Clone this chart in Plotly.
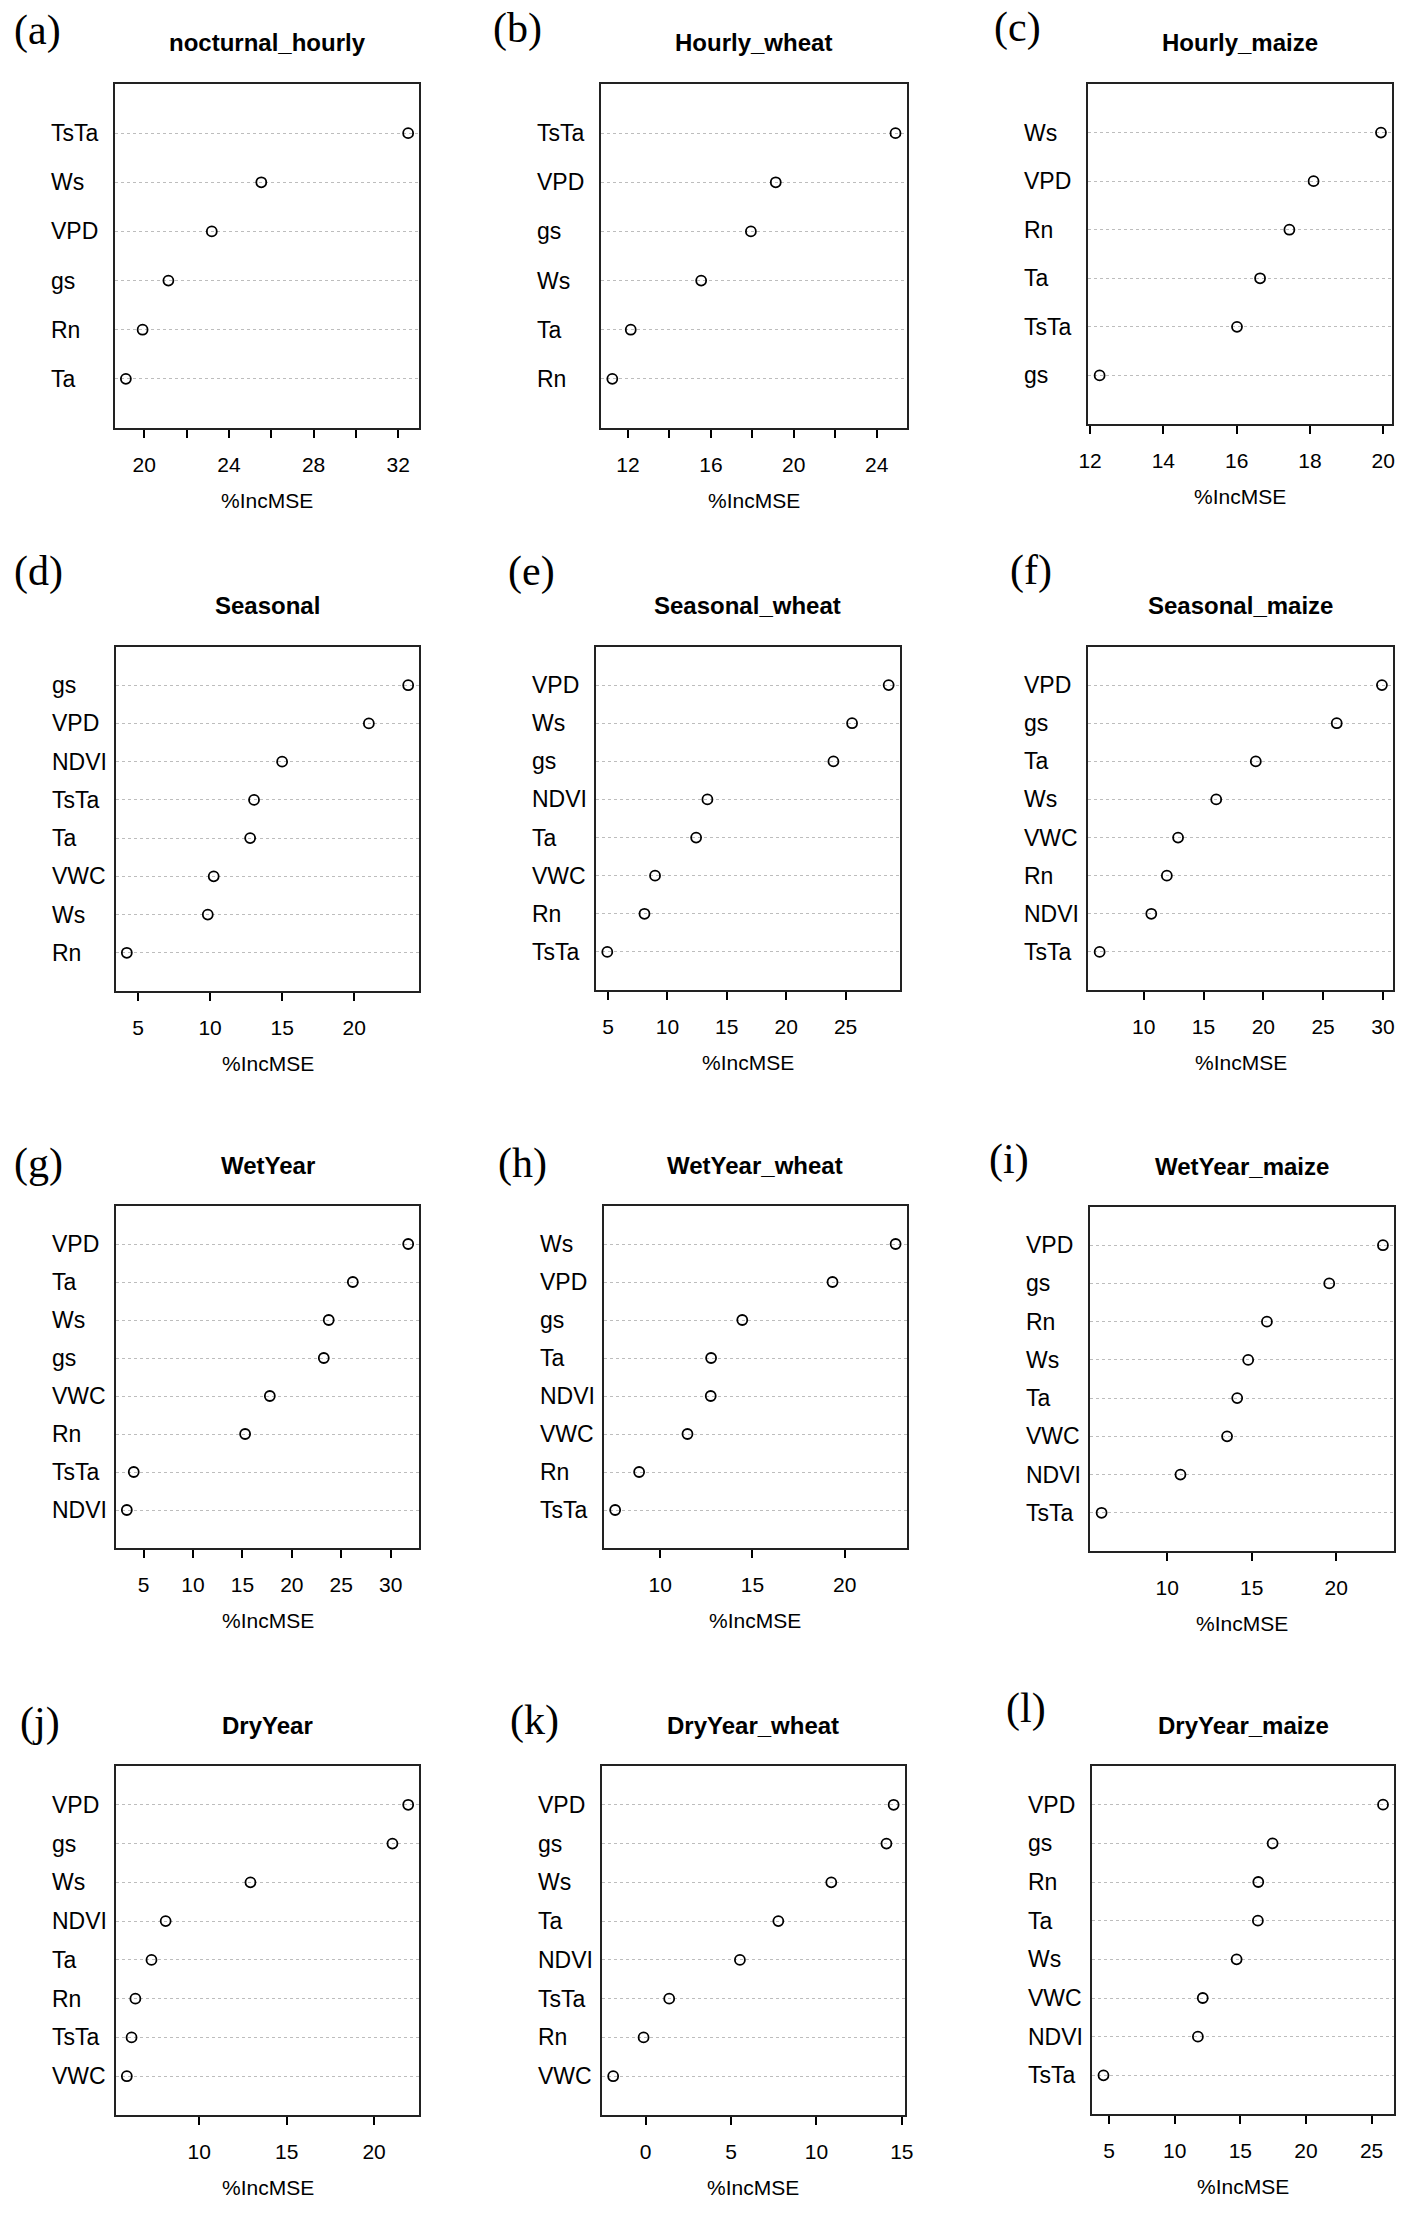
import plotly.graph_objects as go

# %IncMSE importance per panel, listed top to bottom as drawn
a_vars = ["TsTa", "Ws", "VPD", "gs", "Rn", "Ta"]
a_vals = [32.47, 25.53, 23.19, 21.14, 19.92, 19.13]
a_ticks = [20, 22, 24, 26, 28, 30, 32]
a_labels = ["20", "", "24", "", "28", "", "32"]

b_vars = ["TsTa", "VPD", "gs", "Ws", "Ta", "Rn"]
b_vals = [24.91, 19.13, 17.93, 15.53, 12.13, 11.24]
b_ticks = [12, 14, 16, 18, 20, 22, 24]
b_labels = ["12", "", "16", "", "20", "", "24"]

c_vars = ["Ws", "VPD", "Rn", "Ta", "TsTa", "gs"]
c_vals = [19.94, 18.10, 17.44, 16.64, 16.01, 12.26]
c_ticks = [12, 14, 16, 18, 20]
c_labels = ["12", "14", "16", "18", "20"]

d_vars = ["gs", "VPD", "NDVI", "TsTa", "Ta", "VWC", "Ws", "Rn"]
d_vals = [23.75, 21.02, 15.00, 13.05, 12.78, 10.25, 9.84, 4.22]
d_ticks = [5, 10, 15, 20]
d_labels = ["5", "10", "15", "20"]

e_vars = ["VPD", "Ws", "gs", "NDVI", "Ta", "VWC", "Rn", "TsTa"]
e_vals = [28.63, 25.55, 23.98, 13.37, 12.42, 8.96, 8.07, 4.94]
e_ticks = [5, 10, 15, 20, 25]
e_labels = ["5", "10", "15", "20", "25"]

f_vars = ["VPD", "gs", "Ta", "Ws", "VWC", "Rn", "NDVI", "TsTa"]
f_vals = [29.92, 26.14, 19.37, 16.06, 12.87, 11.93, 10.63, 6.31]
f_ticks = [10, 15, 20, 25, 30]
f_labels = ["10", "15", "20", "25", "30"]

g_vars = ["VPD", "Ta", "Ws", "gs", "VWC", "Rn", "TsTa", "NDVI"]
g_vals = [31.77, 26.17, 23.73, 23.23, 17.77, 15.27, 4.00, 3.30]
g_ticks = [5, 10, 15, 20, 25, 30]
g_labels = ["5", "10", "15", "20", "25", "30"]

h_vars = ["Ws", "VPD", "gs", "Ta", "NDVI", "VWC", "Rn", "TsTa"]
h_vals = [22.76, 19.34, 14.45, 12.76, 12.74, 11.48, 8.86, 7.56]
h_ticks = [10, 15, 20]
h_labels = ["10", "15", "20"]

i_vars = ["VPD", "gs", "Rn", "Ws", "Ta", "VWC", "NDVI", "TsTa"]
i_vals = [22.77, 19.59, 15.90, 14.79, 14.14, 13.54, 10.78, 6.11]
i_ticks = [10, 15, 20]
i_labels = ["10", "15", "20"]

j_vars = ["VPD", "gs", "Ws", "NDVI", "Ta", "Rn", "TsTa", "VWC"]
j_vals = [21.95, 21.05, 12.93, 8.08, 7.27, 6.35, 6.13, 5.86]
j_ticks = [10, 15, 20]
j_labels = ["10", "15", "20"]

k_vars = ["VPD", "gs", "Ws", "Ta", "NDVI", "TsTa", "Rn", "VWC"]
k_vals = [14.52, 14.10, 10.87, 7.77, 5.52, 1.38, -0.12, -1.90]
k_ticks = [0, 5, 10, 15]
k_labels = ["0", "5", "10", "15"]

l_vars = ["VPD", "gs", "Rn", "Ta", "Ws", "VWC", "NDVI", "TsTa"]
l_vals = [25.87, 17.46, 16.37, 16.34, 14.72, 12.14, 11.77, 4.58]
l_ticks = [5, 10, 15, 20, 25]
l_labels = ["5", "10", "15", "20", "25"]

titles = ["nocturnal_hourly", "Hourly_wheat", "Hourly_maize",
          "Seasonal", "Seasonal_wheat", "Seasonal_maize",
          "WetYear", "WetYear_wheat", "WetYear_maize",
          "DryYear", "DryYear_wheat", "DryYear_maize"]
tags = ["(a)", "(b)", "(c)", "(d)", "(e)", "(f)",
        "(g)", "(h)", "(i)", "(j)", "(k)", "(l)"]

panels = [
    (a_vars, a_vals, a_ticks, a_labels), (b_vars, b_vals, b_ticks, b_labels),
    (c_vars, c_vals, c_ticks, c_labels), (d_vars, d_vals, d_ticks, d_labels),
    (e_vars, e_vals, e_ticks, e_labels), (f_vars, f_vals, f_ticks, f_labels),
    (g_vars, g_vals, g_ticks, g_labels), (h_vars, h_vals, h_ticks, h_labels),
    (i_vars, i_vals, i_ticks, i_labels), (j_vars, j_vals, j_ticks, j_labels),
    (k_vars, k_vals, k_ticks, k_labels), (l_vars, l_vals, l_ticks, l_labels),
]

# plot boxes in pixels: left, top, right, bottom
W, H = 1418, 2230
boxes = [(106, 84, 415, 428), (599, 84, 909, 428), (1093, 84, 1401, 424),
         (107, 647, 415, 991), (594, 647, 902, 990), (1093, 647, 1402, 990),
         (107, 1206, 415, 1548), (602, 1206, 909, 1548), (1095, 1207, 1403, 1551),
         (107, 1766, 415, 2115), (600, 1766, 907, 2115), (1097, 1766, 1403, 2114)]
# panel tag positions (left x, centre y) in pixels
tag_pos = [(2, 30), (488, 29), (995, 28), (2, 572), (503, 572), (1012, 570),
           (2, 1163), (493, 1163), (990, 1160), (8, 1722), (505, 1720), (1007, 1708)]

SANS = "Liberation Sans, Arial, sans-serif"
fig = go.Figure()
annotations = []
layout = {}

for n, (vars_, vals, ticks, labels) in enumerate(panels):
    k = "" if n == 0 else str(n + 1)
    nv = len(vars_)
    ys = [nv - i for i in range(nv)]
    fig.add_trace(go.Scatter(
        x=vals, y=ys, mode="markers", xaxis="x" + k, yaxis="y" + k,
        marker=dict(symbol="circle-open", size=10, color="black",
                    line=dict(width=1.8, color="black")),
        showlegend=False, hoverinfo="x"))

    lo, hi = min(vals), max(vals)
    pad = 0.04 * (hi - lo)
    l, t, r, b = boxes[n]
    layout["xaxis" + k] = dict(
        domain=[l / W, r / W], anchor="y" + k, range=[lo - pad, hi + pad],
        tickvals=ticks, ticktext=labels, ticks="outside", ticklen=8,
        tickwidth=2, tickcolor="black", ticklabelstandoff=9,
        tickfont=dict(family=SANS, size=21, color="black"),
        showline=True, mirror=True, linecolor="#222222", linewidth=2,
        showgrid=False, zeroline=False)
    layout["yaxis" + k] = dict(
        domain=[1 - b / H, 1 - t / H], anchor="x" + k, range=[0, nv + 1],
        tickvals=ys, showticklabels=False, ticks="",
        showgrid=True, gridcolor="#bdbdbd", griddash="dot", gridwidth=1.2,
        showline=True, mirror=True, linecolor="#222222", linewidth=2,
        zeroline=False)

    for name, y in zip(vars_, ys):
        annotations.append(dict(
            text=name, xref="x" + k + " domain", x=0, xshift=-66,
            yref="y" + k, y=y, xanchor="left", yanchor="middle",
            showarrow=False, font=dict(family=SANS, size=23, color="black")))
    annotations.append(dict(
        text="<b>" + titles[n] + "</b>", xref="x" + k + " domain", x=0.5,
        yref="y" + k + " domain", y=1, yshift=41, xanchor="center",
        yanchor="middle", showarrow=False,
        font=dict(family=SANS, size=24, color="black")))
    annotations.append(dict(
        text="%IncMSE", xref="x" + k + " domain", x=0.5,
        yref="y" + k + " domain", y=0, yshift=-72, xanchor="center",
        yanchor="middle", showarrow=False,
        font=dict(family=SANS, size=21, color="black")))
    tx, ty = tag_pos[n]
    annotations.append(dict(
        text=tags[n], xref="paper", x=tx / W, yref="paper", y=1 - ty / H,
        xanchor="left", yanchor="middle", showarrow=False,
        font=dict(family="Liberation Serif, Times New Roman, serif",
                  size=42, color="black")))

fig.update_layout(
    width=W, height=H, margin=dict(l=0, r=0, t=0, b=0),
    paper_bgcolor="white", plot_bgcolor="white",
    annotations=annotations, **layout)

fig.write_html("out.html", config={"displayModeBar": False},
               post_script="document.body.style.margin='0';")
